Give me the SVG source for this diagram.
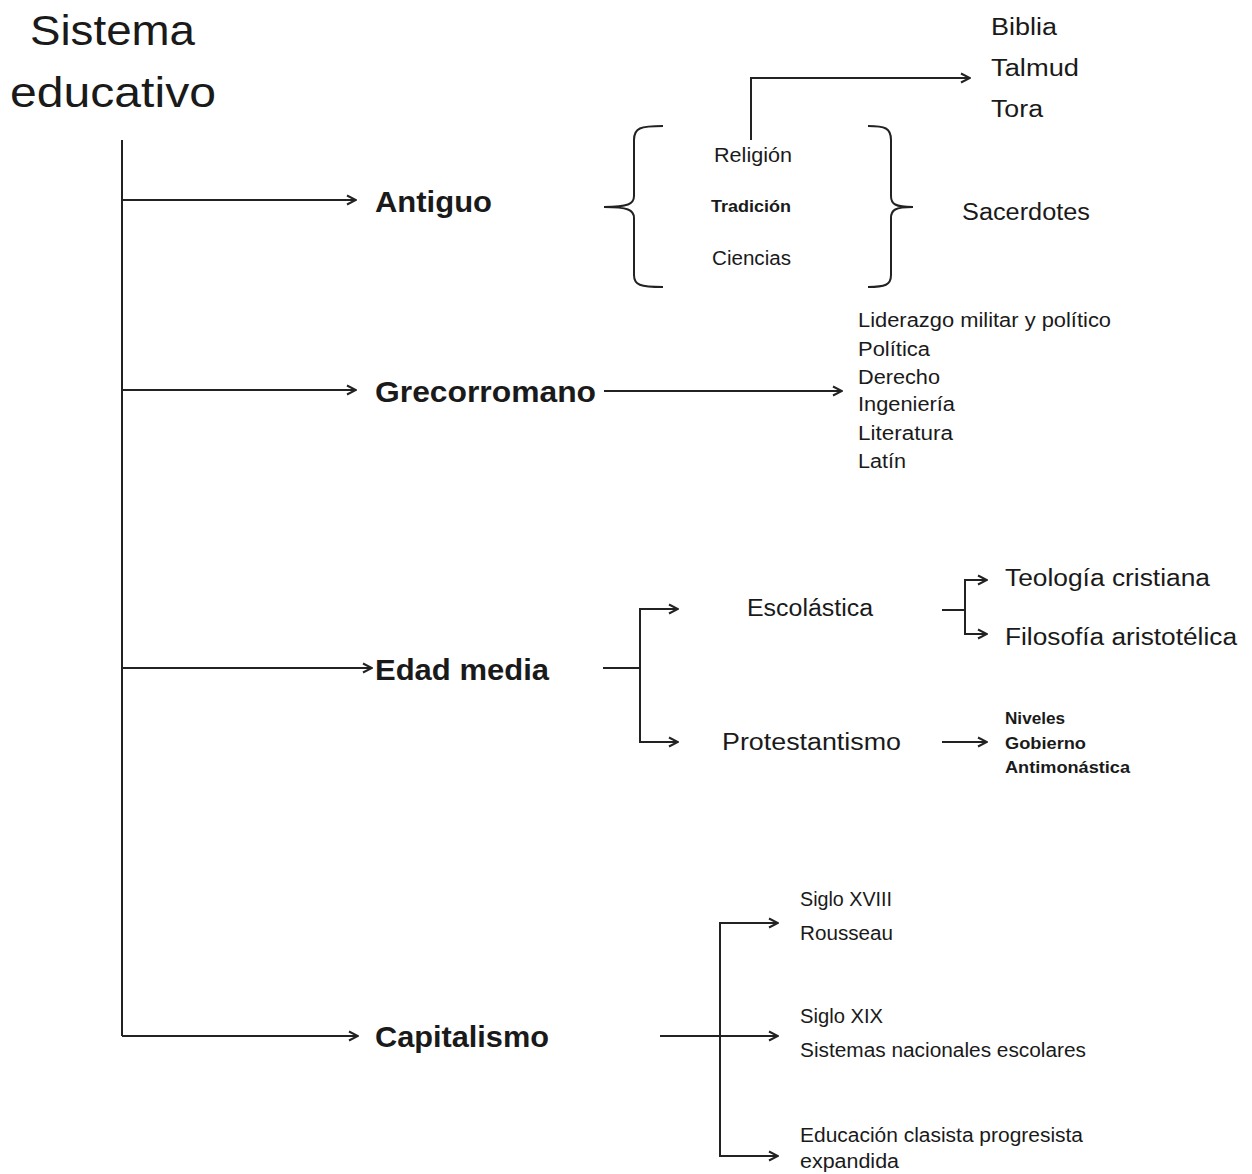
<svg xmlns="http://www.w3.org/2000/svg" width="1252" height="1174" viewBox="0 0 1252 1174">
<defs>
<marker id="arr" viewBox="0 0 12 12" refX="11" refY="6" markerWidth="12" markerHeight="12" markerUnits="userSpaceOnUse" orient="auto">
<path d="M2,1.5 L11,6 L2,10.5" fill="none" stroke="#222" stroke-width="2"/>
</marker>
<style>
text{font-family:"Liberation Sans","Open Sans",Arial,sans-serif;fill:#1a1a1a}
.t{font-size:42px}
.m{font-size:30px;font-weight:bold}
.s{font-size:20px}
.l{font-size:23px}
.xs{font-size:16px;font-weight:bold}
.c{fill:none;stroke:#222;stroke-width:2}
.a{fill:none;stroke:#222;stroke-width:2;marker-end:url(#arr)}
</style>
</defs>
<rect width="1252" height="1174" fill="#fff"/>
<g id="connectors">
<path class="c" d="M122,140 V1036"/>
<path class="a" d="M122,200 H356"/>
<path class="a" d="M122,390 H356"/>
<path class="a" d="M122,668 H372"/>
<path class="a" d="M122,1036 H358"/>
<path class="a" d="M751,140 V78 H970"/>
<path class="a" d="M604,391 H842"/>
<path class="c" d="M603,668 H640"/>
<path class="a" d="M640,668 V609 H678"/>
<path class="a" d="M640,668 V742 H678"/>
<path class="c" d="M942,610 H965"/>
<path class="a" d="M965,610 V580 H987"/>
<path class="a" d="M965,610 V634 H987"/>
<path class="a" d="M942,742 H987"/>
<path class="c" d="M660,1036 H720"/>
<path class="a" d="M720,1036 H778"/>
<path class="a" d="M720,1036 V923 H778"/>
<path class="a" d="M720,1036 V1156 H778"/>
<path class="c" d="M663,126 C640,126 634,128 634,140 V196 C634,204 628,207 604,207 C628,207 634,210 634,218 V275 C634,285 640,287 663,287"/>
<path class="c" d="M868,126 C885,126 891,128 891,140 V196 C891,204 895,207 913,207 C895,207 891,210 891,218 V275 C891,285 885,287 868,287"/>
</g>
<g id="root"><text class="t" x="30" y="45" textLength="165" lengthAdjust="spacingAndGlyphs">Sistema</text><text class="t" x="10" y="107" textLength="206" lengthAdjust="spacingAndGlyphs">educativo</text></g>
<g id="antiguo"><text class="m" x="375" y="212" textLength="117" lengthAdjust="spacingAndGlyphs">Antiguo</text></g>
<g id="grecorromano"><text class="m" x="375" y="402" textLength="221" lengthAdjust="spacingAndGlyphs">Grecorromano</text></g>
<g id="edad-media"><text class="m" x="375" y="680" textLength="174" lengthAdjust="spacingAndGlyphs">Edad media</text></g>
<g id="capitalismo"><text class="m" x="375" y="1047" textLength="174" lengthAdjust="spacingAndGlyphs">Capitalismo</text></g>
<g id="antiguo-items">
<text class="s" x="714" y="162" textLength="78" lengthAdjust="spacingAndGlyphs">Religión</text>
<text class="s" x="711" y="212" style="font-size:17px;font-weight:bold" textLength="80" lengthAdjust="spacingAndGlyphs">Tradición</text>
<text class="s" x="712" y="265" textLength="79" lengthAdjust="spacingAndGlyphs">Ciencias</text>
</g>
<g id="libros">
<text class="l" x="991" y="35" textLength="66" lengthAdjust="spacingAndGlyphs">Biblia</text>
<text class="l" x="991" y="76" textLength="88" lengthAdjust="spacingAndGlyphs">Talmud</text>
<text class="l" x="991" y="117" textLength="52" lengthAdjust="spacingAndGlyphs">Tora</text>
</g>
<g id="sacerdotes"><text class="l" x="962" y="220" textLength="128" lengthAdjust="spacingAndGlyphs">Sacerdotes</text></g>
<g id="greco-items">
<text class="s" x="858" y="327" textLength="253" lengthAdjust="spacingAndGlyphs">Liderazgo militar y político</text>
<text class="s" x="858" y="356" textLength="72" lengthAdjust="spacingAndGlyphs">Política</text>
<text class="s" x="858" y="384" textLength="82" lengthAdjust="spacingAndGlyphs">Derecho</text>
<text class="s" x="858" y="411" textLength="97" lengthAdjust="spacingAndGlyphs">Ingeniería</text>
<text class="s" x="858" y="440" textLength="95" lengthAdjust="spacingAndGlyphs">Literatura</text>
<text class="s" x="858" y="468" textLength="48" lengthAdjust="spacingAndGlyphs">Latín</text>
</g>
<g id="escolastica"><text class="l" x="747" y="616" textLength="126" lengthAdjust="spacingAndGlyphs">Escolástica</text></g>
<g id="protestantismo"><text class="l" x="722" y="750" textLength="179" lengthAdjust="spacingAndGlyphs">Protestantismo</text></g>
<g id="teologia"><text class="l" x="1005" y="586" textLength="205" lengthAdjust="spacingAndGlyphs">Teología cristiana</text></g>
<g id="filosofia"><text class="l" x="1005" y="645" textLength="232" lengthAdjust="spacingAndGlyphs">Filosofía aristotélica</text></g>
<g id="protestantismo-items">
<text class="xs" x="1005" y="724" textLength="60" lengthAdjust="spacingAndGlyphs">Niveles</text>
<text class="xs" x="1005" y="749" textLength="81" lengthAdjust="spacingAndGlyphs">Gobierno</text>
<text class="xs" x="1005" y="773" textLength="125" lengthAdjust="spacingAndGlyphs">Antimonástica</text>
</g>
<g id="siglo-xviii">
<text class="s" x="800" y="906" textLength="92" lengthAdjust="spacingAndGlyphs">Siglo XVIII</text>
<text class="s" x="800" y="940" textLength="93" lengthAdjust="spacingAndGlyphs">Rousseau</text>
</g>
<g id="siglo-xix">
<text class="s" x="800" y="1023" textLength="83" lengthAdjust="spacingAndGlyphs">Siglo XIX</text>
<text class="s" x="800" y="1057" textLength="286" lengthAdjust="spacingAndGlyphs">Sistemas nacionales escolares</text>
</g>
<g id="educacion">
<text class="s" x="800" y="1142" textLength="283" lengthAdjust="spacingAndGlyphs">Educación clasista progresista</text>
<text class="s" x="800" y="1168" textLength="99" lengthAdjust="spacingAndGlyphs">expandida</text>
</g>
</svg>
